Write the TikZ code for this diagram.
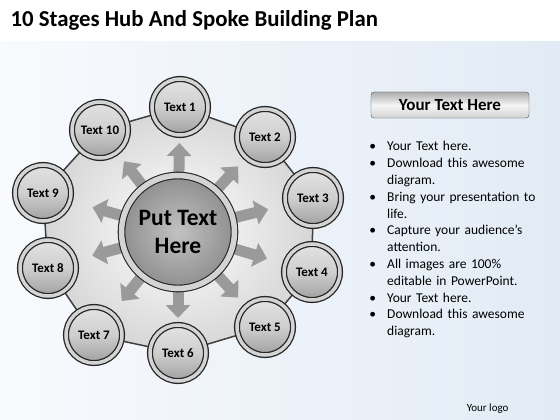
\documentclass[tikz,border=0pt]{standalone}
\usepackage{fontspec}
\setmainfont{Carlito}
\usetikzlibrary{arrows.meta}
\usetikzlibrary{calc}
\usetikzlibrary{backgrounds}

\definecolor{bgleft}{HTML}{F8FAFD}
\definecolor{bgright}{HTML}{E2EBF5}
\definecolor{rim}{HTML}{262626}
\definecolor{silver}{HTML}{D4D4D4}
\definecolor{spokegray}{HTML}{9A9A9A}

\tikzset{
  stage/.style={circle,minimum size=56pt,inner sep=0pt,draw=rim,line width=1.3pt,
    double=silver,double distance=3.5pt,top color=gray!22,bottom color=gray!75,middle color=gray!38,
    font=\fontsize{13}{14}\selectfont\bfseries},
  hub/.style={circle,minimum size=113pt,inner sep=0pt,draw=rim,line width=1.1pt,
    double=silver,double distance=5.5pt,inner color=gray!48,outer color=gray!88,
    align=center,font=\fontsize{23.5}{28}\selectfont\bfseries},
  spoke/.style={line width=11pt,spokegray,-{Triangle[width=24pt,length=13pt]}},
  btnbox/.style={rectangle,rounded corners=3pt,minimum width=158pt,minimum height=26pt,
    draw=gray!60!black,top color=gray!65,bottom color=gray!35,middle color=gray!8,
    font=\fontsize{17}{18}\selectfont\bfseries},
}

\begin{document}
\begin{tikzpicture}[x=1pt,y=-1pt]
	\useasboundingbox (0,0) rectangle (560,420);
	
	% hub and stages
	\node[hub] (hub) at (178,232) {Put Text\\Here};
	\node[stage] (s1) at (180,107) {Text 1};
	\node[stage] (s2) at (265,137) {Text 2};
	\node[stage] (s3) at (313,198) {Text 3};
	\node[stage] (s4) at (312,272) {Text 4};
	\node[stage] (s5) at (265,327) {Text 5};
	\node[stage] (s6) at (178,353) {Text 6};
	\node[stage] (s7) at (94,335) {Text 7};
	\node[stage] (s8) at (48,268) {Text 8};
	\node[stage] (s9) at (43,193) {Text 9};
	\node[stage] (s10) at (100,130) {Text 10};
	
	% title and text panel
	\node[anchor=base west,font=\fontsize{22.8}{24}\selectfont\bfseries] (title) at (7,27) {10 Stages Hub And Spoke Building Plan};
	\node[btnbox] (btn) at (450,105) {Your Text Here};
	\node[anchor=north west,inner sep=0pt,text width=185pt,font=\fontsize{13.5}{16.8}\selectfont] (notes) at (371,134) {%
		\raggedright
		\begin{list}{\textbullet}{\setlength{\leftmargin}{16pt}\setlength{\labelsep}{11pt}%
			\setlength{\itemsep}{0pt}\setlength{\parsep}{0pt}\setlength{\topsep}{0pt}}
		\item Your Text here.
		\item Download this awesome\\ diagram.
		\item Bring your presentation to\\ life.
		\item Capture your audience’s\\ attention.
		\item All images are 100\%\\ editable in PowerPoint.
		\item Your Text here.
		\item Download this awesome\\ diagram.
		\end{list}};
	\node[anchor=base east,font=\fontsize{11}{12}\selectfont] (logo) at (512,411) {Your logo};
	
	\begin{scope}[on background layer]
		\fill[white] (0,0) rectangle (560,42);
		\shade[left color=bgleft,right color=bgright] (0,42) rectangle (560,420);
		\shadedraw[inner color=white,outer color=gray!32,draw=gray!50!black,line width=1.5pt]
			(s1.center) -- (s2.center) -- (s3.center) -- (s4.center) -- (s5.center) --
			(s6.center) -- (s7.center) -- (s8.center) -- (s9.center) -- (s10.center) -- cycle;
		\draw[spoke] (hub.center) -- ($(hub.center)!89pt!(s1.center)$);
		\draw[spoke] (hub.center) -- ($(hub.center)!89pt!(s2.center)$);
		\draw[spoke] (hub.center) -- ($(hub.center)!93pt!(s3.center)$);
		\draw[spoke] (hub.center) -- ($(hub.center)!93pt!(s4.center)$);
		\draw[spoke] (hub.center) -- ($(hub.center)!89pt!(s5.center)$);
		\draw[spoke] (hub.center) -- ($(hub.center)!86pt!(s6.center)$);
		\draw[spoke] (hub.center) -- ($(hub.center)!89pt!(s7.center)$);
		\draw[spoke] (hub.center) -- ($(hub.center)!89pt!(s8.center)$);
		\draw[spoke] (hub.center) -- ($(hub.center)!89pt!(s9.center)$);
		\draw[spoke] (hub.center) -- ($(hub.center)!89pt!(s10.center)$);
	\end{scope}
\end{tikzpicture}
\end{document}
